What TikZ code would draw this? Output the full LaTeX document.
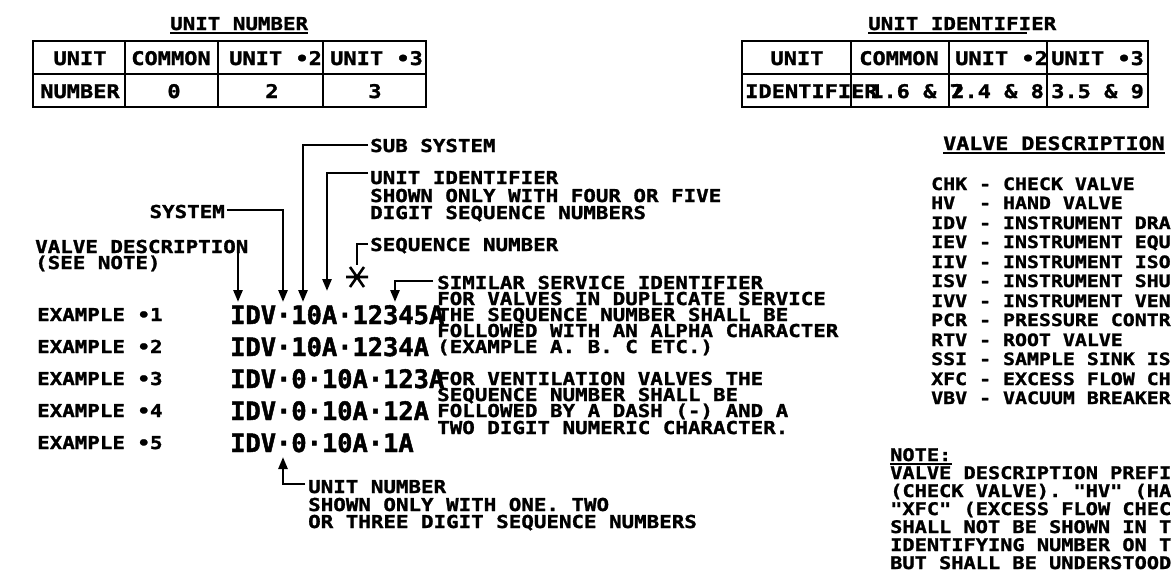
\documentclass[tikz,border=0pt]{standalone}
\usepackage{fontspec}
\usetikzlibrary{arrows.meta}
\newfontfamily\plot{DejaVu Sans Mono}[FakeStretch=1.17,FakeBold=1.4]
\newfontfamily\plotbig{DejaVu Sans Mono}[FakeBold=1.8]
\tikzset{
  txt/.style={anchor=base west, inner sep=0pt, text height=13pt, text depth=0pt, font=\plot\bfseries\fontsize{17.8}{18}\selectfont},
  tbl/.style={anchor=base, inner sep=0pt, text height=14pt, text depth=0pt, font=\plot\bfseries\fontsize{18.8}{19}\selectfont},
  tblw/.style={tbl, anchor=base west},
  lst/.style={anchor=base west, inner sep=0pt, text height=12.5pt, text depth=0pt, font=\plot\bfseries\fontsize{17}{17}\selectfont},
  nte/.style={anchor=base west, inner sep=0pt, text height=12.6pt, text depth=0pt, font=\plot\bfseries\fontsize{17.35}{18}\selectfont},
  ttl/.style={anchor=base west, inner sep=0pt, text height=13.5pt, text depth=0pt, font=\plot\bfseries\fontsize{18.5}{19}\selectfont},
  big/.style={anchor=base west, inner sep=0pt, text height=18.5pt, text depth=0pt, font=\plotbig\bfseries\fontsize{25.4}{26}\selectfont},
  ln/.style={line width=2.6pt},
  uline/.style={line width=2.2pt},
  grid/.style={line width=2.8pt},
  arr/.style={ln, -{Triangle[length=12pt,width=9pt]}}
}
\begin{document}
\begin{tikzpicture}[x=1pt,y=-1pt]
\useasboundingbox (0,0) rectangle (1174,587);
\fill[white] (0,0) rectangle (1174,587);

% ---------- UNIT NUMBER table ----------
\node[txt] (tnum) at (170,30) {UNIT NUMBER};
\draw[uline] ([yshift=-3pt]tnum.base west) -- ([yshift=-3pt]tnum.base east);
\draw[grid] (33,41) rectangle (426,107);
\draw[grid] (33,74) -- (426,74);
\draw[grid] (125,41) -- (125,107) (218,41) -- (218,107) (323,41) -- (323,107);
\node[tbl] (n11) at (80,65) {UNIT};
\node[tbl] (n12) at (171,65) {COMMON};
\node[tblw] (n13) at (229,65) {UNIT •2};
\node[tblw] (n14) at (330,65) {UNIT •3};
\node[tbl] (n21) at (80,98) {NUMBER};
\node[tbl] (n22) at (174,98) {0};
\node[tbl] (n23) at (272,98) {2};
\node[tbl] (n24) at (375,98) {3};

% ---------- UNIT IDENTIFIER table ----------
\node[txt] (tid) at (868,30) {UNIT IDENTIFIER};
\draw[uline] ([yshift=-3pt]tid.base west) -- ++(159,0);
\draw[grid] (742,41) rectangle (1148,107);
\draw[grid] (742,74) -- (1148,74);
\draw[grid] (851,41) -- (851,107) (949,41) -- (949,107) (1047,41) -- (1047,107);
\node[tbl] (i11) at (797,65) {UNIT};
\node[tbl] (i12) at (899,65) {COMMON};
\node[tblw] (i13) at (955,65) {UNIT •2};
\node[tblw] (i14) at (1051,65) {UNIT •3};
\node[tblw] (i21) at (745,98) {IDENTIFIER};
\node[tblw] (i22) at (870,98) {1.6 \& 7};
\node[tblw] (i23) at (951,98) {2.4 \& 8};
\node[tblw] (i24) at (1051,98) {3.5 \& 9};

% ---------- labels above the examples ----------
\node[txt] (subsys) at (370,152) {SUB SYSTEM};
\node[txt] (uid) at (370,184) {UNIT IDENTIFIER};
\node[txt] (uid2) at (370,202) {SHOWN ONLY WITH FOUR OR FIVE};
\node[txt] (uid3) at (370,219) {DIGIT SEQUENCE NUMBERS};
\node[txt, anchor=base east] (sys) at (225,218) {SYSTEM};
\node[txt] (vd) at (35,253) {VALVE DESCRIPTION};
\node[txt] (vd2) at (35,269) {(SEE NOTE)};
\node[txt] (seq) at (370,251) {SEQUENCE NUMBER};

\node[txt] (s1) at (437,289) {SIMILAR SERVICE IDENTIFIER};
\node[txt] (s2) at (437,305) {FOR VALVES IN DUPLICATE SERVICE};
\node[txt] (s3) at (437,321) {THE SEQUENCE NUMBER SHALL BE};
\node[txt] (s4) at (437,337) {FOLLOWED WITH AN ALPHA CHARACTER};
\node[txt] (s5) at (437,353) {(EXAMPLE A. B. C ETC.)};
\node[txt] (f1) at (437,385) {FOR VENTILATION VALVES THE};
\node[txt] (f2) at (437,401) {SEQUENCE NUMBER SHALL BE};
\node[txt] (f3) at (437,417) {FOLLOWED BY A DASH (-) AND A};
\node[txt] (f4) at (437,434) {TWO DIGIT NUMERIC CHARACTER.};

% ---------- examples ----------
\node[txt] (e1) at (37,321) {EXAMPLE •1};
\node[txt] (e2) at (37,353) {EXAMPLE •2};
\node[txt] (e3) at (37,385) {EXAMPLE •3};
\node[txt] (e4) at (37,417) {EXAMPLE •4};
\node[txt] (e5) at (37,449) {EXAMPLE •5};
\node[big] (r1) at (230,324) {IDV·10A·12345A};
\node[big] (r2) at (230,356) {IDV·10A·1234A};
\node[big] (r3) at (230,388) {IDV·0·10A·123A};
\node[big] (r4) at (230,420) {IDV·0·10A·12A};
\node[big] (r5) at (230,452) {IDV·0·10A·1A};

\node[txt] (un1) at (308,493) {UNIT NUMBER};
\node[txt] (un2) at (308,511) {SHOWN ONLY WITH ONE. TWO};
\node[txt] (un3) at (308,528) {OR THREE DIGIT SEQUENCE NUMBERS};

% ---------- connectors ----------
\coordinate (vdA) at (238,242);
\coordinate (vdT) at (238,302);
\draw[arr] (vdA) -- (vdT);
\coordinate (sysB) at (283,210);
\coordinate (sysT) at (283,302);
\draw[arr] ([xshift=2pt]sys.east |- sysB) -- (sysB) -- (sysT);
\coordinate (sbA) at (368,145);
\coordinate (sbB) at (303,145);
\coordinate (sbT) at (303,302);
\draw[arr] (sbA) -- (sbB) -- (sbT);
\coordinate (uiA) at (368,173);
\coordinate (uiB) at (327,173);
\coordinate (uiT) at (327,291);
\draw[arr] (uiA) -- (uiB) -- (uiT);
\coordinate (sqA) at (368,244);
\coordinate (sqB) at (357,244);
\coordinate (sqE) at (357,265);
\draw[ln] (sqA) -- (sqB) -- (sqE);
\coordinate (ast) at (357,277);
\draw[ln] ([shift={(-11,0)}]ast) -- ([shift={(11,0)}]ast)
          ([shift={(-7,-10)}]ast) -- ([shift={(7,10)}]ast)
          ([shift={(7,-10)}]ast) -- ([shift={(-7,10)}]ast);
\coordinate (smA) at (433,281);
\coordinate (smB) at (395,281);
\coordinate (smT) at (395,302);
\draw[arr] (smA) -- (smB) -- (smT);
\coordinate (unA) at (305,484);
\coordinate (unB) at (283,484);
\coordinate (unT) at (283,457);
\draw[arr] (unA) -- (unB) -- (unT);

% ---------- valve description list ----------
\node[ttl] (vdt) at (943,150) {VALVE DESCRIPTION};
\draw[uline] ([yshift=-3pt]vdt.base west) -- ([yshift=-3pt]vdt.base east);
\node[lst] (l1)  at (931,190) {CHK - CHECK VALVE};
\node[lst] (l2)  at (931,209) {HV~ - HAND VALVE};
\node[lst] (l3)  at (931,229) {IDV - INSTRUMENT DRA};
\node[lst] (l4)  at (931,248) {IEV - INSTRUMENT EQU};
\node[lst] (l5)  at (931,268) {IIV - INSTRUMENT ISO};
\node[lst] (l6)  at (931,287) {ISV - INSTRUMENT SHU};
\node[lst] (l7)  at (931,307) {IVV - INSTRUMENT VEN};
\node[lst] (l8)  at (931,326) {PCR - PRESSURE CONTR};
\node[lst] (l9)  at (931,346) {RTV - ROOT VALVE};
\node[lst] (l10) at (931,365) {SSI - SAMPLE SINK IS};
\node[lst] (l11) at (931,385) {XFC - EXCESS FLOW CH};
\node[lst] (l12) at (931,404) {VBV - VACUUM BREAKER};

% ---------- note ----------
\node[nte] (nt) at (890,461) {NOTE:};
\draw[uline] ([yshift=-3pt]nt.base west) -- ([yshift=-3pt]nt.base east);
\node[nte] (n1) at (890,479) {VALVE DESCRIPTION PREFI};
\node[nte] (n2) at (890,497) {(CHECK VALVE). "HV" (HA};
\node[nte] (n3) at (890,515) {"XFC" (EXCESS FLOW CHEC};
\node[nte] (n4) at (890,533) {SHALL NOT BE SHOWN IN T};
\node[nte] (n5) at (890,551) {IDENTIFYING NUMBER ON T};
\node[nte] (n6) at (890,569) {BUT SHALL BE UNDERSTOOD};
\end{tikzpicture}
\end{document}
